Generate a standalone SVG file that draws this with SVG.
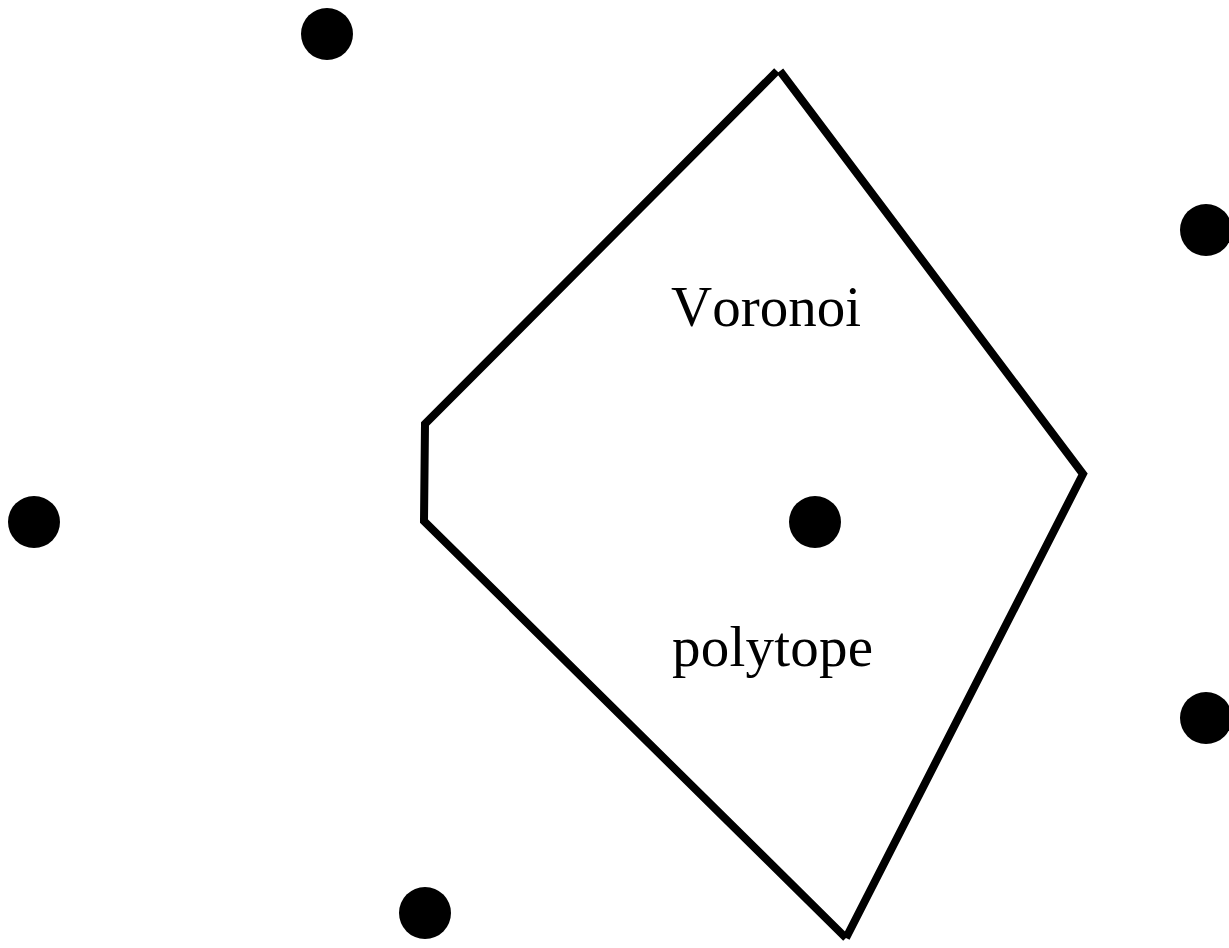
<svg xmlns="http://www.w3.org/2000/svg" width="1229" height="948" viewBox="0 0 1229 948">
<style>
.dot{fill:#000}
.edge{fill:none;stroke:#000;stroke-width:8;stroke-linecap:butt;stroke-linejoin:miter}
.lbl{font-family:"Liberation Serif","Times New Roman",serif;font-size:57px;fill:#000;font-kerning:none}
</style>
<rect width="1229" height="948" fill="#fff"/>
<g id="connectors">
<polyline class="edge" points="777,71 425,424 424,521 846,938"/>
<polyline class="edge" points="780,71 1083,474 846,938"/>
</g>
<g id="site1"><circle class="dot" cx="327" cy="34" r="26"/></g>
<g id="site2"><circle class="dot" cx="1206" cy="230" r="26"/></g>
<g id="site3"><circle class="dot" cx="34" cy="522" r="26"/></g>
<g id="site4"><circle class="dot" cx="815" cy="522" r="26"/></g>
<g id="site5"><circle class="dot" cx="1206" cy="718" r="26"/></g>
<g id="site6"><circle class="dot" cx="425" cy="913" r="26"/></g>
<g id="label-voronoi"><text class="lbl" x="671" y="326" textLength="190" lengthAdjust="spacing">Voronoi</text></g>
<g id="label-polytope"><text class="lbl" x="672" y="666" textLength="201" lengthAdjust="spacing">polytope</text></g>
</svg>
